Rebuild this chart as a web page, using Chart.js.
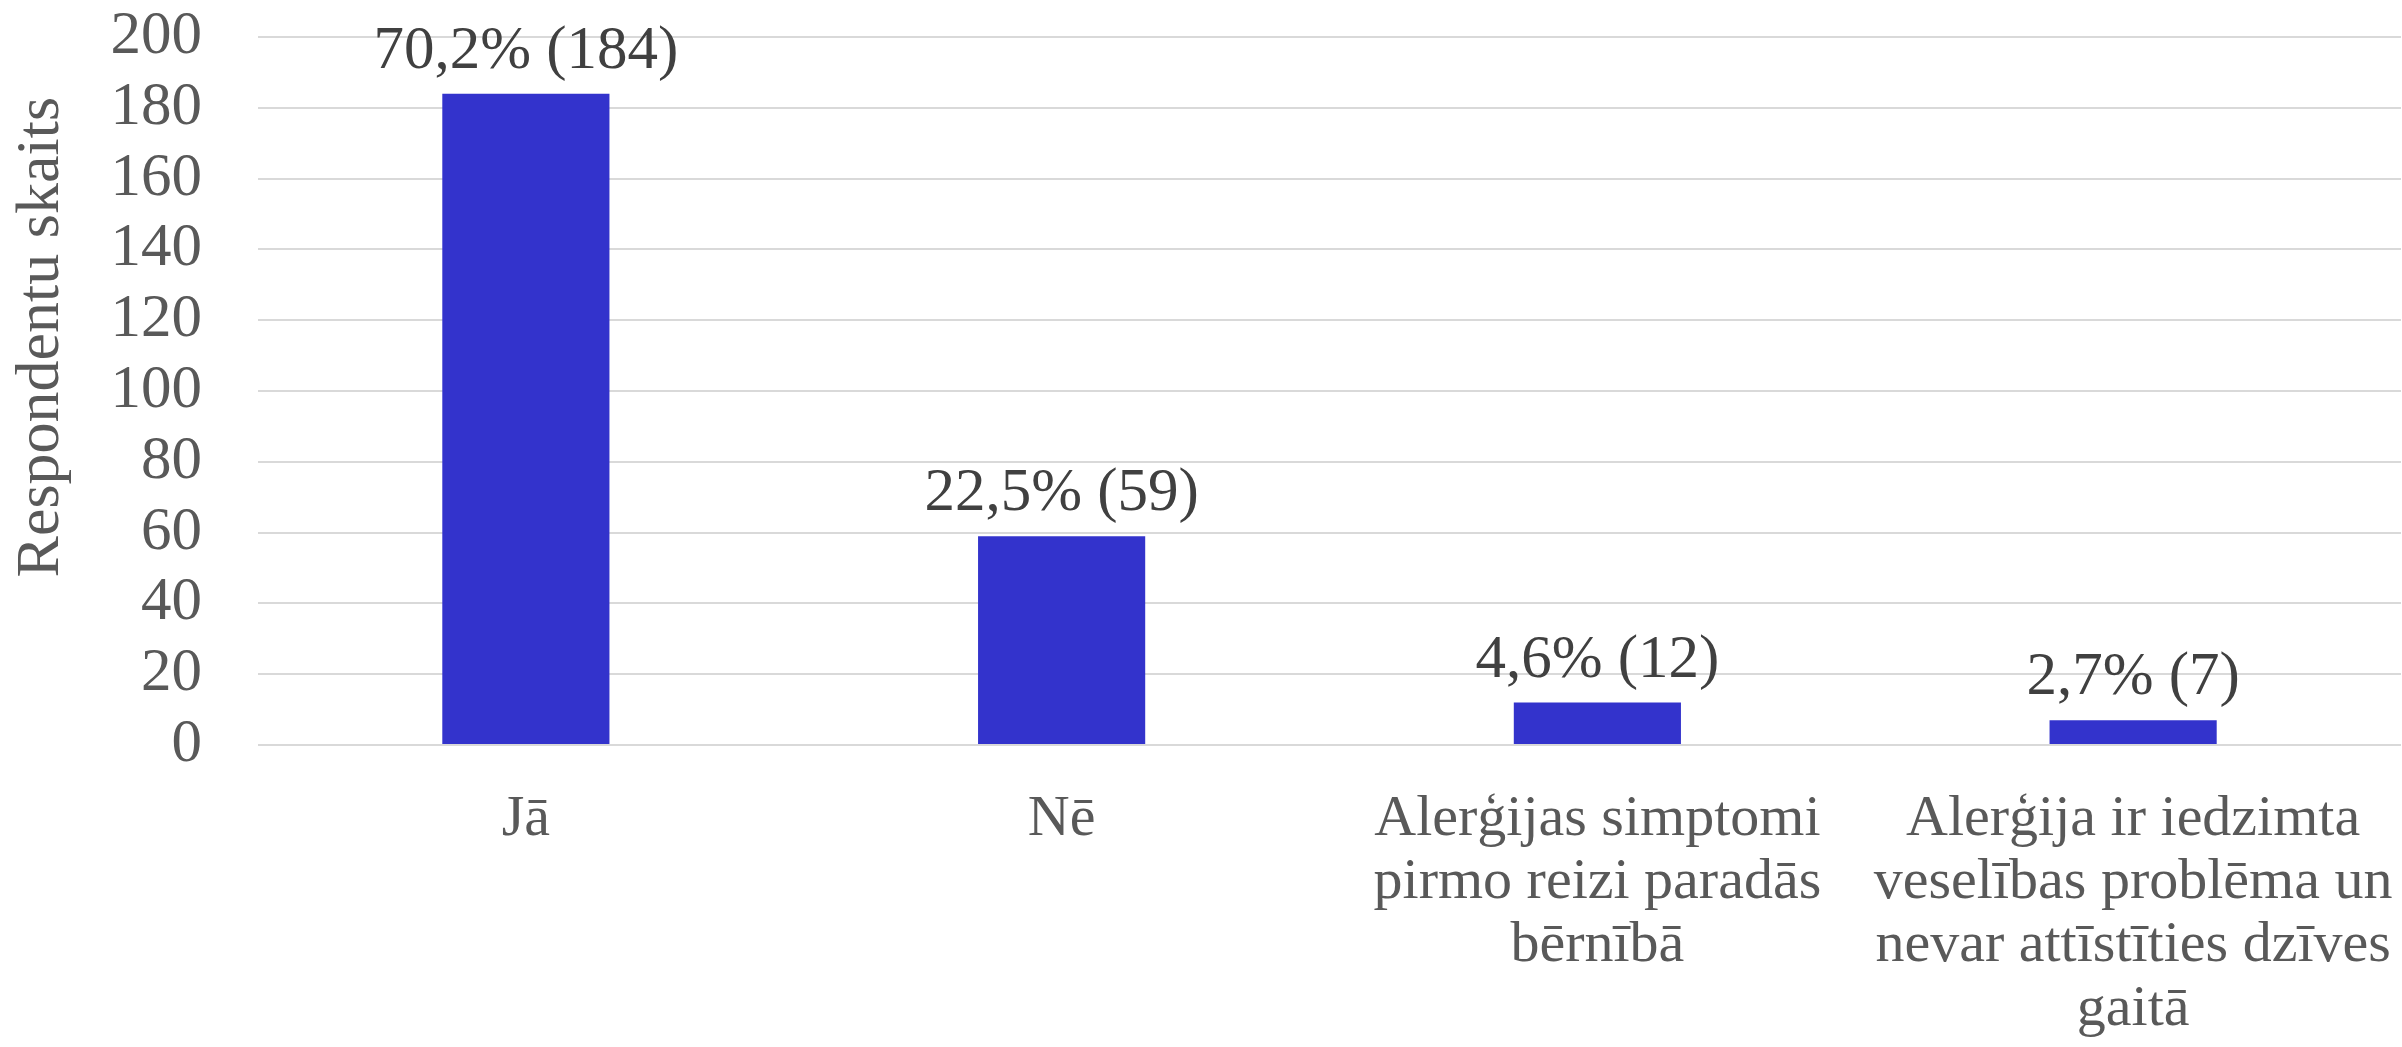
<!DOCTYPE html>
<html>
<head>
<meta charset="utf-8">
<script src="https://cdn.jsdelivr.net/npm/chart.js@4"></script>
<style>
    html, body { margin: 0; padding: 0; background: #fff; }
    #wrap { width: 2402px; height: 1047px; }
</style>
</head>
<body>
<div id="wrap"><canvas id="barChart"></canvas></div>
<script>
// Chart values
const categories = [
    'Jā',
    'Nē',
    ['Alerģijas simptomi', 'pirmo reizi paradās', 'bērnībā'],
    ['Alerģija ir iedzimta', 'veselības problēma un', 'nevar attīstīties dzīves', 'gaitā']
];
const respondents = [184, 59, 12, 7];
const percentLabels = ['70,2%', '22,5%', '4,6%', '2,7%'];
const yTicks = { min: 0, max: 200, step: 20 };
const yTitle = 'Respondentu skaits';

const serif = "'Liberation Serif', 'Times New Roman', serif";

// Draws "xx,x% (n)" above each bar
const valueLabels = {
    id: 'valueLabels',
    afterDatasetsDraw(chart) {
        const c = chart.ctx;
        const meta = chart.getDatasetMeta(0);
        c.save();
        c.font = '61px ' + serif;
        c.fillStyle = '#404040';
        c.textAlign = 'center';
        c.textBaseline = 'alphabetic';
        meta.data.forEach((bar, i) => {
            c.fillText(percentLabels[i] + ' (' + respondents[i] + ')', bar.x, bar.y - 26);
        });
        c.restore();
    }
};

// Axis title drawn like Excel places it (centred a bit above the plot middle)
const sideTitle = {
    id: 'sideTitle',
    afterDraw(chart) {
        const c = chart.ctx;
        const area = chart.chartArea;
        c.save();
        c.translate(42, area.top + (area.bottom - area.top) * 0.424);
        c.rotate(-Math.PI / 2);
        c.font = '62px ' + serif;
        c.fillStyle = '#595959';
        c.textAlign = 'center';
        c.textBaseline = 'middle';
        c.fillText(yTitle, 0, 0);
        c.restore();
    }
};

new Chart(document.getElementById('barChart'), {
    type: 'bar',
    data: {
        labels: categories,
        datasets: [{
            data: respondents,
            backgroundColor: '#3333CC',
            categoryPercentage: 1,
            barPercentage: 0.312
        }]
    },
    options: {
        responsive: true,
        maintainAspectRatio: false,
        animation: false,
        layout: { padding: { left: 112, top: 37, right: 1, bottom: 0 } },
        plugins: {
            legend: { display: false },
            tooltip: { enabled: false }
        },
        scales: {
            x: {
                grid: { display: false, drawTicks: false },
                border: { display: false },
                ticks: {
                    color: '#595959',
                    font: { family: serif, size: 58, lineHeight: 1.09 },
                    maxRotation: 0,
                    autoSkip: false,
                    padding: 43
                },
                afterFit(scale) {
                    // let the long labels run wide instead of shrinking the plot
                    scale.paddingLeft = 0;
                    scale.paddingRight = 0;
                    scale.height = 302;
                }
            },
            y: {
                min: yTicks.min,
                max: yTicks.max,
                grid: { color: '#d9d9d9', lineWidth: 2, drawTicks: false },
                border: { display: false },
                ticks: {
                    stepSize: yTicks.step,
                    autoSkip: false,
                    color: '#595959',
                    font: { family: serif, size: 61 },
                    padding: 56
                },
                afterFit(scale) {
                    scale.paddingTop = 0;
                    scale.paddingBottom = 0;
                    scale.width = 146;
                }
            }
        }
    },
    plugins: [valueLabels, sideTitle]
});
</script>
</body>
</html>
